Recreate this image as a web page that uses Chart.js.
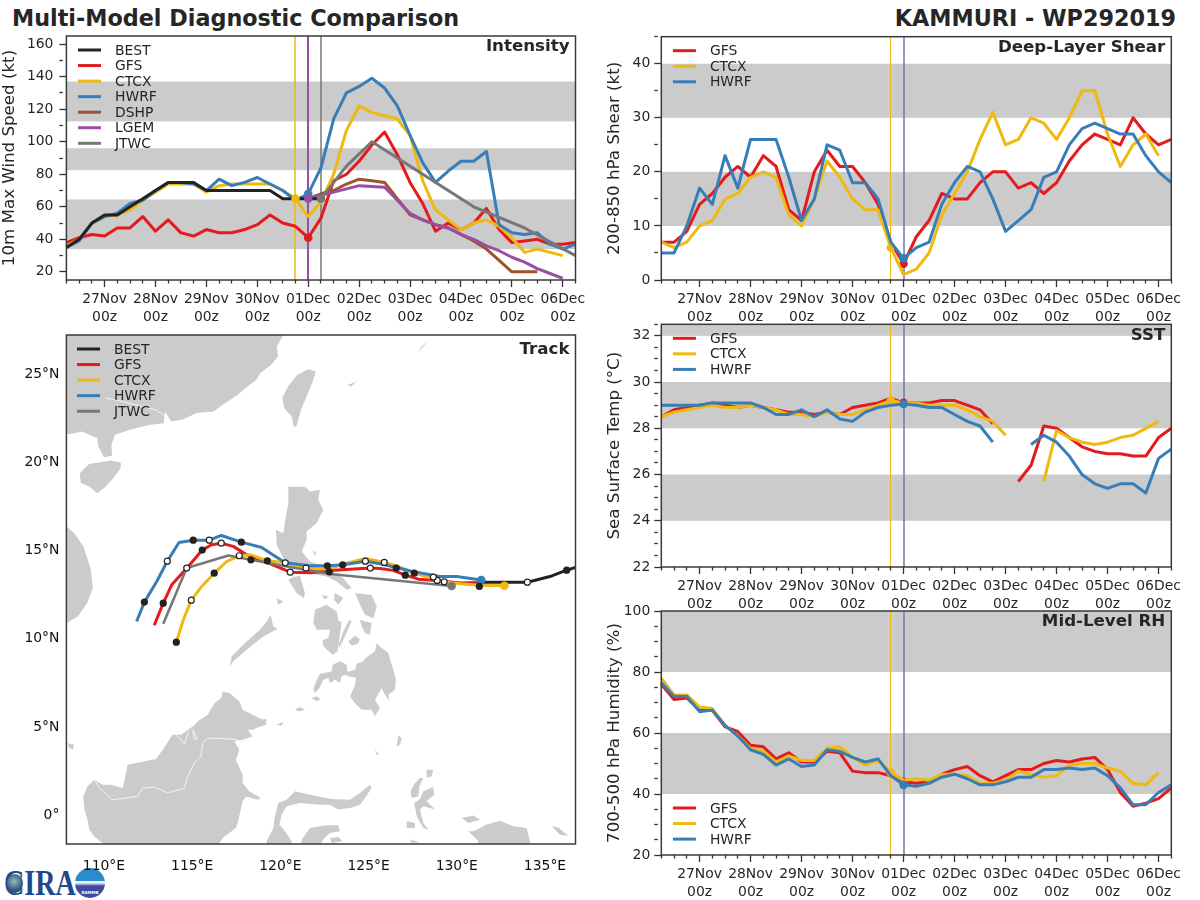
<!DOCTYPE html>
<html><head><meta charset="utf-8">
<script src="https://cdn.jsdelivr.net/npm/chart.js@4"></script>
<style>
html,body{margin:0;padding:0;background:#fff;width:1200px;height:900px;overflow:hidden;font-family:"DejaVu Sans",sans-serif;color:#262626}
canvas{position:absolute;display:block}
.ttl{position:absolute;font:bold 22.3px "DejaVu Sans";white-space:nowrap;line-height:26px}
#cira{position:absolute;left:4px;top:862px;font:bold 36px "Liberation Serif";color:#1d4a8c;transform:scaleX(.78);transform-origin:left top}
#globe{position:absolute;left:7px;top:874px;width:16px;height:19px;border-radius:50%;background:radial-gradient(circle at 45% 40%,#9fb7a4,#35618f 55%,#1b2f5c)}
#ram{position:absolute;left:75px;top:868px;width:30px;height:30px;border-radius:50%;background:linear-gradient(#2a8ccb 0 45%,#e8f2fa 45% 50%,#3e4a9e 60%);color:#fff;font:bold 4px "DejaVu Sans";text-align:center;line-height:50px;overflow:hidden}
</style></head><body>
<div class="ttl" style="left:12px;top:5px">Multi-Model Diagnostic Comparison</div>
<div class="ttl" style="right:24px;top:5px">KAMMURI - WP292019</div>
<div id="cira">CIRA</div><div id="globe"></div><div id="ram">RAMMB</div>
<canvas id="cInt" width="590" height="310" style="left:0;top:16px"></canvas>
<canvas id="cShear" width="590" height="302" style="left:600px;top:24px"></canvas>
<canvas id="cSst" width="590" height="303" style="left:600px;top:310px"></canvas>
<canvas id="cRh" width="590" height="304" style="left:600px;top:597px"></canvas>
<canvas id="cTrack" width="590" height="560" style="left:0;top:315px"></canvas>
<script>
const hours=["26Nov 06z","26Nov 12z","26Nov 18z","27Nov 00z","27Nov 06z","27Nov 12z","27Nov 18z","28Nov 00z","28Nov 06z","28Nov 12z","28Nov 18z","29Nov 00z","29Nov 06z","29Nov 12z","29Nov 18z","30Nov 00z","30Nov 06z","30Nov 12z","30Nov 18z","01Dec 00z","01Dec 06z","01Dec 12z","01Dec 18z","02Dec 00z","02Dec 06z","02Dec 12z","02Dec 18z","03Dec 00z","03Dec 06z","03Dec 12z","03Dec 18z","04Dec 00z","04Dec 06z","04Dec 12z","04Dec 18z","05Dec 00z","05Dec 06z","05Dec 12z","05Dec 18z","06Dec 00z","06Dec 06z"];
const _=null;
// Intensity (kt)
const intBEST=[35,40,50,55,55,60,65,70,75,75,75,70,70,70,70,70,70,65,65,65,65];
const intGFS=[38,41,43,42,47,47,54,45,52,44,42,46,44,44,46,49,55,50,48,41,53,76,80,88,98,106,92,75,62,45,50,46,50,59,46,38,39,40,37,37,38];
const intCTCX=[36,40,50,54,55,58,64,69,74,74,74,69,73,74,74,74,74,70,65,54,63,80,107,122,118,116,114,104,76,58,52,46,50,52,48,41,32,34,32,30];
const intHWRF=[35,39,50,54,56,62,64,70,75,75,74,70,77,73,75,78,74,70,64,68,84,114,130,134,139,133,122,104,87,75,82,88,88,94,49,44,43,44,37,34,37];
const intDSHP=[_,_,_,_,_,_,_,_,_,_,_,_,_,_,_,_,_,_,_,65,68,70,74,77,76,75,65,55,52,49,47,43,39,34,27,20,20,20];
const intLGEM=[_,_,_,_,_,_,_,_,_,_,_,_,_,_,_,_,_,_,_,65,67,69,71,73,72.5,72,64,56,52,49,47,43,40,36,33,29,26,22,19,16];
const intJTWC=[_,_,_,_,_,_,_,_,_,_,_,_,_,_,_,_,_,_,_,_,65,_,85,_,100,_,90,_,80,_,70,_,60,_,_,_,47,_,_,_,30];
// Shear (kt)
const shGFS=[7,7,9,14,16,19,21,19,23,21,13,11,20,24,21,21,18,14,7,3,8,11,16,15,15,18,20,20,17,18,16,18,22,25,27,26,25,30,27,25,26];
const shCTCX=[7,6,7,10,11,15,16,19,20,19,12,10,15,22,19,15,13,13,6,1,2,5,12,16,20,26,31,25,26,30,29,26,30,35,35,27,21,25,27,23];
const shHWRF=[5,5,10,17,14,23,17,26,26,26,19,11,15,25,24,18,18,15,7,4,6,7,14,18,21,20,15,9,11,13,19,20,25,28,29,28,27,27,23,20,18];
// SST (deg C)
const sstGFS=[28.5,28.8,28.9,29,29.1,29,28.9,29,28.9,28.8,28.7,28.7,28.6,28.7,28.6,28.9,29,29.1,29.3,29.1,29.1,29.1,29.2,29.2,29,28.8,28.2,_,25.7,26.4,28.1,28,27.6,27.2,27,26.9,26.9,26.8,26.8,27.6,28];
const sstCTCX=[28.5,28.7,28.8,28.9,29,28.9,28.9,29,28.9,28.8,28.6,28.6,28.5,28.7,28.6,28.6,28.8,29,29.2,29.1,29.1,29,29,29,28.8,28.5,28.3,27.7,_,_,25.7,27.9,27.6,27.4,27.3,27.4,27.6,27.7,28,28.3];
const sstHWRF=[29,29,29,29,29.1,29.1,29.1,29.1,28.9,28.6,28.6,28.8,28.5,28.8,28.4,28.3,28.7,28.9,29,29.05,29,28.9,28.9,28.6,28.3,28.1,27.4,_,_,27.3,27.7,27.4,26.8,26,25.6,25.4,25.6,25.6,25.2,26.7,27.1];
// RH (%)
const rhGFS=[76,71,71.5,67.5,67.5,62,60.5,56,55.5,51.5,53.5,50.5,50.5,54,53.5,47.5,47,47,46,44,43.5,44,46.5,48,49,46,44,46,48,48,50,51,50.5,51.5,52,48,40.5,36,37,38.5,42];
const rhCTCX=[78,72.5,72.5,68.5,68,62.5,59,55,54,50.5,52.5,51,51,55,55.5,52,49.5,51,47,44.5,45,44.5,46.5,46.5,46,43.5,43.5,44.5,47.5,46.5,45.5,46,49.5,50,50,48.5,47.5,43.5,43,47];
const rhHWRF=[76.5,72,72,67,67.5,62.5,59,54.5,53,49.5,51.5,49,49.5,54.5,54,52,50.5,51.5,46,43,42.5,43.5,45.5,46.5,45,43,43,44,45.5,45.5,48,48,48.5,48,48.5,46,42,36.5,36.5,40.5,43];
// Threshold bands
const intBands=[[34,64.5],[82.5,96],[112.5,137]];
const shBands=[[10,20],[30,40]];
const sstBands=[[24,26],[28,30],[32,32.5]];
const rhBands=[[40,60],[80,100]];
// Track [lon,lat]
const trkBEST=[[136.9,14.02],[136.23,13.81],[135.28,13.45],[134,13.13],[132.64,13.13],[131.28,13.13]];
const trkGFS=[[131.39,13.11],[130.18,13.08],[128.86,13.23],[127.82,13.3],[127.08,13.53],[126.4,13.8],[125.65,13.91],[125.1,13.93],[123.95,13.87],[122.81,13.79],[121.77,13.66],[120.56,13.7],[119.22,14.25],[118.09,14.68],[117.33,15.16],[116.65,15.34],[116.1,15.25],[115.57,14.95],[114.78,14.02],[113.84,12.98],[113.36,11.94],[112.85,10.69]];
const trkCTCX=[[132.7,12.93],[131.28,12.96],[130.18,13.04],[129.29,13.15],[128.29,13.45],[127.59,13.64],[126.59,14.06],[125.89,14.25],[124.82,14.47],[123.57,14.17],[122.77,13.87],[121.45,13.93],[120.28,14.23],[119.26,14.34],[118.33,14.68],[117.67,14.63],[116.95,14.3],[116.25,13.64],[115.54,12.89],[114.95,12.11],[114.5,11],[114.1,9.73]];
const trkHWRF=[[131.39,13.25],[129.99,13.45],[129.05,13.45],[128.29,13.59],[127.54,13.72],[126.57,13.96],[125.65,14.17],[124.82,14.32],[123.57,14.12],[122.66,14.06],[121.68,14.06],[120.73,14.17],[120.28,14.23],[119.79,14.55],[118.94,15.1],[117.79,15.4],[116.65,15.78],[115.97,15.51],[115.06,15.51],[114.25,15.38],[113.59,14.32],[112.99,13.17],[112.29,12],[111.85,10.9]];
const trkJTWC=[[129.71,12.91],[122.81,13.59],[120.36,14.02],[117.05,14.64],[114.69,13.93],[113.36,10.77]];
const dotsBlack=[[136.23,13.81],[131.28,12.89],[127.59,13.64],[127.08,13.53],[126.57,13.93],[123.53,14.12],[122.66,14.06],[122.77,13.72],[119.26,14.34],[118.33,14.4],[117.79,15.4],[116.25,13.64],[115.57,14.95],[115.06,15.51],[113.36,11.94],[112.29,12],[114.1,9.73]];
const dotsWhite=[[134,13.13],[129.29,13.15],[128.89,13.23],[128.67,13.42],[125.89,14.25],[125.1,13.93],[124.82,14.32],[121.45,13.93],[120.56,13.7],[120.28,14.23],[117.67,14.63],[116.65,15.34],[115.97,15.51],[114.95,12.11],[114.69,13.93],[113.59,14.32]];
// Land outlines [lon,lat]
const landChina=[[120.43,27.6],[119.8,26.5],[119.86,25.93],[119.48,25.46],[118.85,24.98],[118.64,24.61],[118.01,24.13],[117.58,23.76],[116.74,23.19],[116.22,22.81],[115.27,22.72],[114.42,22.34],[113.79,22.24],[113.48,22.81],[113.37,22.15],[112.53,22.05],[111.47,21.77],[110.63,21.49],[110.42,20.92],[110.46,20.3],[110,20.22],[109.68,20.83],[109.62,21.3],[108.74,21.68],[108.1,21.54],[107,21.45],[107,27.6]];
const landHainan=[[108.63,19.31],[109.16,19.83],[109.68,19.92],[110.42,20.03],[110.95,19.92],[110.95,19.6],[110.53,19.03],[110.1,18.56],[109.62,18.18],[109.16,18.56],[108.69,18.75]];
const landTaiwan=[[121.59,25.21],[122.01,25.08],[121.8,24.42],[121.48,23.66],[121.17,22.91],[120.91,21.96],[120.75,21.96],[120.64,22.53],[120.22,23],[120.11,23.57],[120.43,24.23],[120.96,24.89]];
const landVietnam=[[107,16.5],[107.89,16.29],[108.31,15.91],[108.84,15.16],[109.26,13.83],[109.37,12.8],[109.05,11.95],[108.52,11.19],[107.89,10.81],[107,10.5]];
const landLuzon=[[120.45,18.54],[121.39,18.54],[121.68,18.27],[122.24,18.37],[122.15,17.8],[122.43,17.23],[122.06,16.48],[121.49,16],[121.49,15.53],[121.21,14.87],[121.68,14.3],[122.25,14.11],[122.81,13.83],[123.57,13.36],[124.04,12.79],[123.76,12.7],[123.19,13.17],[122.62,13.45],[122.06,13.55],[121.49,13.74],[120.92,13.93],[120.36,14.12],[120.17,14.49],[119.79,15.25],[119.75,16.1],[120.17,15.91],[120.26,16.57],[120.45,17.61]];
const landMindoro=[[120.73,13.42],[121.11,13.49],[121.39,12.51],[121.34,12.22],[120.92,12.51],[120.45,13.27]];
const landPolillo=[[121.83,14.97],[122.02,14.78],[121.96,14.59]];
const landSamar=[[124.23,12.51],[125.17,12.41],[125.46,11.75],[125.27,11.09],[124.8,11.28],[124.51,11.85]];
const landLeyte=[[124.51,11],[125.17,10.81],[125.08,10.15],[124.8,10.24],[124.61,10.62]];
const landPanay=[[121.96,11.56],[122.62,11.85],[123.19,11.47],[123.38,10.62],[122.91,10.43],[122.06,10.43],[121.87,10.81]];
const landNegros=[[122.91,10.9],[123.47,10.9],[123.38,10.15],[123.23,9.2],[122.96,9.01],[122.43,9.49],[122.4,9.83],[122.72,9.96]];
const landCebu=[[123.91,11],[124.04,10.9],[123.66,10.05],[123.34,9.39],[123.3,9.58],[123.57,10.34]];
const landBohol=[[123.85,9.77],[124.23,10.09],[124.51,9.9],[124.42,9.67],[124.04,9.52]];
const landMasbate=[[123.09,12.51],[123.57,12.23],[123.28,11.85],[123.04,12.13]];
const landSibuyan=[[122.34,12.41],[122.72,12.32],[122.53,12.13]];
const landPalawan=[[119.45,11.28],[119.6,10.62],[119.86,10.49],[119.03,10.05],[118.09,9.3],[117.33,8.64],[117.14,8.35],[117.24,8.92],[117.99,9.68],[118.84,10.43],[119.22,10.9]];
const landCalamian=[[119.79,12.22],[120.17,12.04],[119.88,11.85]];
const landMindanao=[[124.8,8.82],[125.36,9.2],[125.46,9.68],[125.74,9.39],[126.12,9.11],[126.25,8.64],[126.4,8.16],[126.55,7.6],[126.5,7.03],[126.12,6.75],[126.18,6.37],[125.93,6.75],[125.74,7.12],[125.36,6.46],[125.65,5.99],[125.36,5.52],[125.17,5.9],[124.61,5.9],[124.23,6.27],[123.95,6.65],[124.23,7.31],[124.29,7.69],[123.85,7.79],[123.66,7.88],[123.47,7.79],[123.38,7.41],[123.1,7.6],[122.81,7.41],[122.72,7.69],[122.43,7.6],[122.21,7.12],[121.96,6.84],[121.87,7.07],[122.06,7.6],[122.25,7.94],[122.91,8.07],[122.96,8.45],[123.38,8.64],[123.76,8.45],[123.79,8.07],[123.91,8.07],[124.23,8.16],[124.33,8.5],[124.7,8.64]];
const landBasilan=[[121.77,6.56],[122.06,6.65],[122.28,6.5],[122.06,6.37]];
const landJolo=[[120.83,5.93],[121.11,6.03],[121.39,5.9],[121.02,5.8]];
const landTawi=[[118.84,5.33],[119.22,5.37],[119.18,5.05],[118.84,4.95]];
const landSibutu=[[119.79,5.04],[120.17,5.23],[120.07,4.99]];
const landTalaud=[[126.69,4.44],[126.88,4.29],[126.78,3.91],[126.59,3.82]];
const landSangihe=[[125.36,3.63],[125.61,3.34],[125.46,3.34]];
const landBorneo=[[116.73,6.93],[117.11,6.84],[117.67,6.37],[117.86,5.9],[118.43,5.61],[119.19,5.23],[119.09,5.04],[118.43,4.76],[118.15,4.76],[118.43,4.38],[117.86,4.19],[117.39,4.1],[117.67,3.63],[117.48,3.06],[117.86,2.21],[117.86,1.74],[118.24,1.26],[118.9,0.89],[118.71,0.79],[118.05,0.98],[117.86,0.7],[117.58,-0.53],[117.48,-0.81],[116.73,-1.38],[116.54,-1.66],[116.54,-2.42],[110.02,-2.42],[109.92,-1.66],[109.45,-1.29],[109.17,-0.91],[109.07,-0.34],[108.89,0.23],[108.83,0.98],[109.07,1.55],[109.45,1.93],[109.93,1.64],[110.4,1.64],[111.06,1.45],[111.25,2.3],[111.34,2.78],[112.95,3.1],[113.33,3.63],[113.89,4.48],[114.37,4.48],[115.03,4.95],[115.31,5.23],[115.88,5.61],[116.26,6.27],[116.64,6.56]];
const landNatuna=[[107.94,4],[108.32,3.91],[108.22,3.63],[108.03,3.72]];
const landSulawesi=[[125.08,1.64],[125.17,1.45],[124.8,0.89],[124.51,0.51],[123.95,0.32],[123.28,0.23],[122.81,0.51],[122.25,0.51],[121.11,0.6],[120.35,0.42],[120.07,-0.06],[119.94,-0.62],[120.26,-1],[120.64,-1.57],[120.64,-2.23],[119.22,-2.23],[119.22,-1.57],[119.6,-0.81],[119.69,-0.15],[119.88,0.6],[120.35,0.79],[120.83,1.27],[121.68,1.08],[122.91,0.83],[123.95,0.79],[124.51,1.17]];
const landSulawesiE=[[121.11,-2.23],[121.21,-1.47],[121.68,-0.81],[122.62,-0.66],[123.28,-0.66],[123.38,-1],[122.81,-1.1],[122.43,-1.47],[122.06,-2.23]];
const landBanggai=[[122.81,-1.38],[123.28,-1.32],[123.53,-1.57],[122.91,-1.66]];
const landMorotai=[[128.29,2.49],[128.67,2.49],[128.58,2.12],[128.29,2.02]];
const landHalmaN=[[127.91,2.02],[128.1,2.02],[127.88,1.55],[127.82,0.98],[127.44,0.89],[127.38,1.27],[127.63,1.74]];
const landHalmaS=[[128.1,1.27],[128.67,1.51],[128.71,1.08],[128.29,0.7],[128.77,0.23],[128.1,0.42],[127.91,0.23],[128.1,-0.53],[128.39,-0.91],[128.1,-0.81],[127.73,-0.15],[127.58,0.6],[127.91,0.83]];
const landObi=[[127.16,-0.43],[127.63,-0.53],[127.63,-0.81],[127.16,-0.81]];
const landWaigeo=[[130.28,-0.25],[130.94,-0.11],[131.32,-0.34],[130.65,-0.53]];
const landGuinea=[[130.94,-1],[131.69,-0.62],[132.45,-0.4],[133.21,-0.72],[133.96,-0.81],[134.15,-1.57],[134.25,-2.23],[130.94,-2.23],[131.22,-1.57],[130.65,-1]];
const landBiak=[[135.38,-0.72],[135.76,-0.78],[136.32,-1.25],[135.85,-1.19]];
const landSula=[[127.35,-1.47],[127.91,-1.62],[127.44,-1.66]];
const landRyukyu=[[127.8,26.12],[128.33,26.78],[128,26.5]];
const landMiyako=[[123.8,24.32],[124.33,24.51],[124,24.23]];
const lands=[landChina,landHainan,landTaiwan,landVietnam,landLuzon,landMindoro,landPolillo,landSamar,landLeyte,landPanay,landNegros,landCebu,landBohol,landMasbate,landSibuyan,landPalawan,landCalamian,landMindanao,landBasilan,landJolo,landTawi,landSibutu,landTalaud,landSangihe,landBorneo,landNatuna,landSulawesi,landSulawesiE,landBanggai,landMorotai,landHalmaN,landHalmaS,landObi,landWaigeo,landGuinea,landBiak,landSula,landRyukyu,landMiyako];
const borderBorneo=[[109.45,1.93],[109.74,1.45],[110.49,0.79],[111.91,0.98],[112.19,1.45],[112.85,1.51],[113.61,1.17],[114.56,1.45],[114.74,2.11],[115.12,2.87],[115.5,3.25],[115.59,4],[115.88,4.29],[117.3,4.23],[117.86,4.1]];
const borderBrunei=[[114.08,4.48],[114.56,3.97],[114.8,4.67]];
const borderBrunei2=[[115.03,4.76],[115.31,4.23],[115.12,4.23],[115.03,4.76]];
const borderChina=[[110.1,23.57],[111.05,23.38],[112.95,22.9],[113.48,22.53]];
const borders=[borderBorneo,borderBrunei,borderBrunei2,borderChina];
const lonTicks=[110,115,120,125,130,135];
const latTicks=[0,5,10,15,20,25];

const COL={BEST:'#222222',GFS:'#e41a1c',CTCX:'#f0b90f',HWRF:'#377eb8',DSHP:'#a0522d',LGEM:'#984ea3',JTWC:'#777777'};
const INK='#262626', FONT='"DejaVu Sans"', GREY='#cbcbcb';
const TICK={family:FONT,size:13.9,lineHeight:1.25}, AXT={family:FONT,size:16.67};

function tracePoly(c,x,pts){x.beginPath();pts.forEach((p,i)=>{const px=c.scales.x.getPixelForValue(p[0]),py=c.scales.y.getPixelForValue(p[1]);i?x.lineTo(px,py):x.moveTo(px,py);});}
function panelPlugin(cfg){return {id:'panel',
  beforeDatasetsDraw(c){const a=c.chartArea,x=c.ctx;x.save();
    (cfg.bands||[]).forEach(b=>{const y1=c.scales.y.getPixelForValue(b[1]),y0=c.scales.y.getPixelForValue(b[0]);x.fillStyle=GREY;x.fillRect(a.left,y1,a.right-a.left,y0-y1);});
    (cfg.vlines||[]).forEach(v=>{const w=v[2]||1,p0=c.scales.x.getPixelForValue(v[0]),p=Math.round(w)%2?Math.floor(p0)+0.5:Math.round(p0);x.strokeStyle=v[1];x.lineWidth=w;x.beginPath();x.moveTo(p,a.top);x.lineTo(p,a.bottom);x.stroke();});
    if(cfg.land){x.beginPath();x.rect(a.left,a.top,a.right-a.left,a.bottom-a.top);x.clip();
      x.fillStyle=GREY;cfg.land.forEach(l=>{tracePoly(c,x,l);x.closePath();x.fill();});
      x.strokeStyle='#f4f4f4';x.lineWidth=1;cfg.border.forEach(l=>{tracePoly(c,x,l);x.stroke();});}
    x.restore();},
  afterDatasetsDraw(c){const a=c.chartArea,x=c.ctx;x.save();x.strokeStyle='#3a3a3a';x.lineWidth=1.5;x.strokeRect(a.left,a.top,a.right-a.left,a.bottom-a.top);x.restore();},
  afterDraw(c){const a=c.chartArea,x=c.ctx;x.save();x.textBaseline='middle';
    x.font='bold 16.67px '+FONT;x.fillStyle=INK;x.textAlign='right';x.fillText(cfg.title,a.right-6,a.top+(cfg.titleDy||11));
    x.font='13.9px '+FONT;x.textAlign='left';
    cfg.legend.forEach((n,i)=>{const y=a.top+cfg.legendY+i*15.55;x.strokeStyle=COL[n];x.lineWidth=3;x.beginPath();x.moveTo(a.left+cfg.legendX,y);x.lineTo(a.left+cfg.legendX+23,y);x.stroke();x.fillStyle=INK;x.fillText(n,a.left+cfg.legendX+37,y+1);});
    x.restore();}
};}

function line(label,data,mark,z,extra){return Object.assign({label,data,borderColor:COL[label],backgroundColor:COL[label],borderWidth:3,tension:0,fill:false,
  spanGaps:false,borderJoinStyle:'round',pointBorderWidth:0,pointHoverRadius:0,pointRadius:c=>c.dataIndex===mark?4.3:0,order:z},extra||{});}
function marker(label,data,mark,z){return {label:label+' now',data,showLine:false,borderColor:COL[label],backgroundColor:COL[label],pointBorderWidth:0,pointHoverRadius:0,pointRadius:c=>c.dataIndex===mark?4.3:0,order:z};}

function isMajorHour(i){return (i-3)%4===0;}
function isMajorVal(v,m){return Math.abs(v/m-Math.round(v/m))<1e-6;}
function timeOpts(axisTitle,min,max,major,minor,yW,titlePad){return {
  x:{type:'category',labels:hours,offset:false,afterFit:s=>{s.height=46;},border:{display:false},
     grid:{drawOnChartArea:false,drawTicks:true,tickLength:7,tickColor:'#333',tickWidth:1.3,tickBorderDash:c=>isMajorHour(c.index)?[]:[3.5,30]},
     ticks:{autoSkip:false,maxRotation:0,minRotation:0,padding:4,color:INK,font:TICK,callback:function(v,i){return isMajorHour(i)?hours[i].split(' '):'';}}},
  y:{type:'linear',min,max,afterFit:s=>{s.width=yW;},border:{display:false},
     afterBuildTicks:s=>{const out=[];for(let k=Math.ceil(min/minor-1e-9);k*minor<=max+1e-9;k++)out.push({value:+(k*minor).toFixed(3)});s.ticks=out;},
     grid:{drawOnChartArea:false,tickLength:7,tickColor:'#333',tickWidth:1.3,tickBorderDash:c=>isMajorVal(c.tick.value,major)?[]:[3.5,30]},
     ticks:{stepSize:minor,autoSkip:false,padding:titlePad?4:6,color:INK,font:TICK,callback:v=>isMajorVal(v,major)?String(v):''},
     title:{display:true,text:axisTitle,color:INK,font:AXT,padding:{top:titlePad||0,bottom:0}}}
};}

function timeChart(id,datasets,scales,pad,cfg){
  return new Chart(document.getElementById(id),{type:'line',data:{labels:hours,datasets},plugins:[panelPlugin(cfg)],
    options:{responsive:false,animation:false,devicePixelRatio:1,layout:{padding:pad},events:[],
      plugins:{legend:{display:false},title:{display:false},tooltip:{enabled:false}},scales}});
}
const VL_IDX={ctcx:18,main:19,jtwc:20};

timeChart('cInt',[
  line('BEST',intBEST,-1,-100),line('GFS',intGFS,-1,-1),line('CTCX',intCTCX,-1,-2),line('HWRF',intHWRF,-1,-3),
  line('DSHP',intDSHP,-1,-4),line('LGEM',intLGEM,-1,-5),line('JTWC',intJTWC,-1,-6,{spanGaps:true}),
  marker('GFS',intGFS,19,-201),marker('CTCX',intCTCX,18,-202),marker('HWRF',intHWRF,19,-203),marker('LGEM',intLGEM,19,-204),marker('JTWC',intJTWC,20,-205)],
  timeOpts('10m Max Wind Speed (kt)',15,165,20,10,66.4),{top:20,right:14.5,bottom:0,left:0},
  {bands:intBands,vlines:[[VL_IDX.ctcx,COL.CTCX,1.5],[VL_IDX.main,COL.LGEM,2],[VL_IDX.jtwc,COL.JTWC,1.5]],title:'Intensity',legend:['BEST','GFS','CTCX','HWRF','DSHP','LGEM','JTWC'],legendX:11.6,legendY:14});
timeChart('cShear',[line('GFS',shGFS,19,-1),line('CTCX',shCTCX,18,-2),line('HWRF',shHWRF,19,-3)],
  timeOpts('200-850 hPa Shear (kt)',0,45,10,5,61.3,5),{top:12,right:18.7,bottom:0,left:0},
  {bands:shBands,vlines:[[VL_IDX.ctcx,COL.CTCX,1],[VL_IDX.main,'#6a78b4',1.5]],title:'Deep-Layer Shear',legend:['GFS','CTCX','HWRF'],legendX:11.6,legendY:14});
timeChart('cSst',[line('GFS',sstGFS,19,-1),line('CTCX',sstCTCX,18,-2),line('HWRF',sstHWRF,19,-3)],
  timeOpts('Sea Surface Temp (°C)',22,32.5,2,0.5,61.3,5),{top:14.3,right:18.7,bottom:0,left:0},
  {bands:sstBands,vlines:[[VL_IDX.ctcx,COL.CTCX,1],[VL_IDX.main,'#6a78b4',1.5]],title:'SST',legend:['GFS','CTCX','HWRF'],legendX:11.6,legendY:14});
timeChart('cRh',[line('GFS',rhGFS,19,-1),line('CTCX',rhCTCX,18,-2),line('HWRF',rhHWRF,19,-3)],
  timeOpts('700-500 hPa Humidity (%)',20,100,20,5,61.3,5),{top:14,right:18.7,bottom:0,left:0},
  {bands:rhBands,vlines:[[VL_IDX.ctcx,COL.CTCX,1],[VL_IDX.main,'#6a78b4',1.5]],title:'Mid-Level RH',legend:['GFS','CTCX','HWRF'],legendX:11.6,legendY:197});

const xy=a=>a.map(p=>({x:p[0],y:p[1]}));
const tl=(label,arr,z,start)=>({label,data:xy(arr),showLine:true,fill:false,borderColor:COL[label],backgroundColor:COL[label],borderWidth:label==='JTWC'?2.6:3,tension:0,borderJoinStyle:'round',order:z,pointBorderWidth:0,pointRadius:c=>(start&&c.dataIndex===0)?4.3:0});
const trackSets=[tl('BEST',trkBEST,-1),tl('GFS',trkGFS,-2),tl('CTCX',trkCTCX,-3,true),tl('HWRF',trkHWRF,-4,true),tl('JTWC',trkJTWC,-5,true),
 {label:'24h',data:xy(dotsBlack),showLine:false,pointRadius:3.6,pointBackgroundColor:'#222',pointBorderColor:'#222',pointBorderWidth:0,order:-20},
 {label:'12h',data:xy(dotsWhite),showLine:false,pointRadius:3,pointBackgroundColor:'#fff',pointBorderColor:'#222',pointBorderWidth:1.2,order:-21}];

new Chart(document.getElementById('cTrack'),{type:'scatter',data:{datasets:trackSets},plugins:[panelPlugin({land:lands,border:borders,title:'Track',titleDy:15,legend:['BEST','GFS','CTCX','HWRF','JTWC'],legendX:10.6,legendY:14})],
  options:{responsive:false,animation:false,devicePixelRatio:1,events:[],layout:{padding:{top:20,right:14.5,bottom:0,left:0}},
    plugins:{legend:{display:false},tooltip:{enabled:false}},
    scales:{
      x:{type:'linear',min:107.87,max:136.73,afterFit:s=>{s.height=31;},border:{display:false},afterBuildTicks:s=>{s.ticks=lonTicks.map(v=>({value:v}));},
        grid:{display:false,drawTicks:false},ticks:{autoSkip:false,maxRotation:0,padding:14,color:'#111',font:TICK,callback:v=>v+'°E'}},
      y:{type:'linear',min:-1.72,max:27.15,afterFit:s=>{s.width=66.4;},border:{display:false},afterBuildTicks:s=>{s.ticks=latTicks.map(v=>({value:v}));},
        grid:{display:false,drawTicks:false},ticks:{autoSkip:false,padding:7,labelOffset:1.5,color:'#111',font:TICK,callback:v=>v===0?'0°':v+'°N'}}
    }}});
</script>
</body></html>
